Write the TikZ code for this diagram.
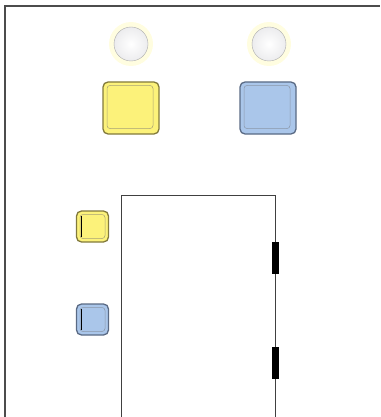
\documentclass[tikz,border=0pt]{standalone}
\usepackage{tikz}
\usetikzlibrary{positioning}

\definecolor{keyyellow}{RGB}{252,242,122}
\definecolor{keyyellowdk}{RGB}{130,122,60}
\definecolor{keyblue}{RGB}{170,198,234}
\definecolor{keybluedk}{RGB}{90,106,132}

\begin{document}
\begin{tikzpicture}[x=1pt, y=-1pt,
        lamp/.style={circle, draw=gray!65, inner sep=0pt, minimum size=34pt, inner color=white, outer color=blue!5!gray!14},
        glow/.style={circle, fill=yellow!12, inner sep=0pt, minimum size=44pt},
        key/.style={draw, rounded corners=5pt, line width=1.3pt, inner sep=0pt},
        keyin/.style={draw, rounded corners=3pt, line width=0.5pt, inner sep=0pt},
        tab/.style={fill=black, inner sep=0pt, minimum width=7pt, minimum height=32pt},
        frame/.style={draw=gray!60!black, line width=1pt}
    ]
        \useasboundingbox (0,0) rectangle (380,417);
        \draw[frame, line width=1.5pt] (5,417) -- (5,6) -- (380,6);

        % lamps
        \node[glow] at (131,44) {};
        \node[glow] at (269,44) {};
        \node[lamp] (lampA) at (131,44) {};
        \node[lamp] (lampB) at (269,44) {};

        % large keys
        \node[key, draw=keyyellowdk, fill=keyyellow, minimum width=56pt, minimum height=52pt] (keyA) at (131,108) {};
        \node[keyin, draw=keyyellowdk!70, minimum width=46pt, minimum height=43pt] (keyAin) at (130,107) {};
        \node[key, draw=keybluedk, fill=keyblue, minimum width=56pt, minimum height=52pt] (keyB) at (268,108) {};
        \node[keyin, draw=keybluedk!70, minimum width=46pt, minimum height=43pt] (keyBin) at (267,107) {};

        % small keys
        \node[key, draw=keyyellowdk, fill=keyyellow, minimum width=32pt, minimum height=31pt] (keyC) at (92.5,226.5) {};
        \node[keyin, draw=keyyellowdk!70, minimum width=25pt, minimum height=24pt] (keyCin) at (92.5,226.5) {};
        \draw[line width=1pt] ([xshift=2pt, yshift=-1.5pt]keyCin.north west) -- ([xshift=2pt, yshift=1.5pt]keyCin.south west);
        \node[key, draw=keybluedk, fill=keyblue, minimum width=32pt, minimum height=31pt] (keyD) at (92.5,319.5) {};
        \node[keyin, draw=keybluedk!70, minimum width=25pt, minimum height=24pt] (keyDin) at (92.5,319.5) {};
        \draw[line width=1pt] ([xshift=2pt, yshift=-1.5pt]keyDin.north west) -- ([xshift=2pt, yshift=1.5pt]keyDin.south west);

        % cabinet
        \coordinate (cabBL) at (121,417);
        \coordinate (cabBR) at (275,417);
        \draw[draw=gray!50!black, line width=0.8pt] (cabBL) |- (275,195) -- (cabBR);
        \node[tab] (tabA) at (275,258) {};
        \node[tab] (tabB) at (275,363) {};
    \end{tikzpicture}
\end{document}
